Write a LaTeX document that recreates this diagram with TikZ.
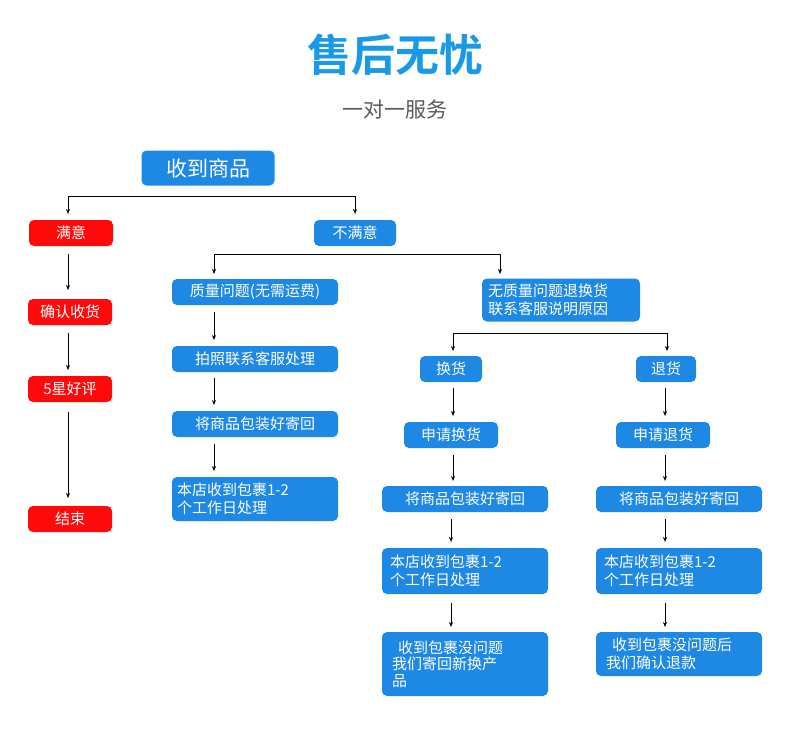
\documentclass[tikz,border=0pt]{standalone}
\usepackage{fontspec}
\setmainfont{Noto Sans CJK SC}
\newfontfamily\cjkb{Noto Sans CJK SC Bold}
\usetikzlibrary{arrows.meta}
\definecolor{bl}{HTML}{1E88E5}
\definecolor{tb}{HTML}{1A9AE6}
\definecolor{rd}{HTML}{FF0A0A}
\tikzset{
 b/.style={fill=bl,text=white,rounded corners=5pt,font=\fontsize{15}{18}\selectfont,inner sep=0pt,minimum height=26pt,align=left},
 r/.style={b,fill=rd,minimum width=84pt},
 ar/.style={-{Stealth[length=5pt,width=4pt]},line width=0.7pt},
 ln/.style={line width=0.7pt}
}
\begin{document}
\begin{tikzpicture}[x=1pt,y=-1pt]
\useasboundingbox (0,0) rectangle (790,755);
\node[text=tb,font=\cjkb\fontsize{44}{50}\selectfont] (t) at (395,55) {售后无忧};
\node[text=black!65,font=\fontsize{21}{24}\selectfont] (s) at (395,110) {一对一服务};
\node[b,minimum width=133pt,minimum height=35pt,font=\fontsize{21}{24}\selectfont] (rx) at (208,168) {收到商品};
\node[r] (my) at (71,233) {满意};
\node[b,minimum width=82pt] (bmy) at (355,233) {不满意};
\node[r] (qr) at (70,312) {确认收货};
\node[r] (hp) at (70,389) {5星好评};
\node[r] (js) at (70,519) {结束};
\coordinate (h1) at (68,196); \coordinate (h2) at (355,196);
\draw[ln] (h1)--(h2);
\draw[ar] (h1)--(68,214); \draw[ar] (h2)--(355,214);
\draw[ar] (68,254)--(68,290);
\draw[ar] (68,333)--(68,370);
\draw[ar] (68,412)--(68,498);
% left branch
\node[b,minimum width=166pt] (zl) at (255,292) {质量问题(无需运费)};
\node[b,minimum width=166pt] (pz) at (255,359) {拍照联系客服处理};
\node[b,minimum width=166pt] (jb1) at (255,424) {将商品包装好寄回};
\node[b,minimum width=166pt,minimum height=44pt,text width=156pt] (bd1) at (255,499) {本店收到包裹1-2\\个工作日处理};
\node[b,minimum width=158pt,minimum height=43pt,text width=146pt] (wz) at (561,300) {无质量问题退换货\\联系客服说明原因};
\coordinate (h3) at (214,254); \coordinate (h4) at (500,254);
\draw[ln] (h3)--(h4);
\draw[ar] (h3)--(214,274); \draw[ar] (h4)--(500,274);
\draw[ar] (214,312)--(214,340);
\draw[ar] (214,378)--(214,405);
\draw[ar] (214,444)--(214,471);
% right branches
\node[b,minimum width=62pt] (hh) at (451,369) {换货};
\node[b,minimum width=60pt] (th) at (666,369) {退货};
\coordinate (h5) at (453,333); \coordinate (h6) at (667,333);
\draw[ln] (h5)--(h6);
\draw[ar] (h5)--(453,351); \draw[ar] (h6)--(667,351);
\node[b,minimum width=94pt] (sq1) at (451,435) {申请换货};
\node[b,minimum width=94pt] (sq2) at (663,435) {申请退货};
\node[b,minimum width=166pt] (jb2) at (465,499) {将商品包装好寄回};
\node[b,minimum width=166pt] (jb3) at (679,499) {将商品包装好寄回};
\node[b,minimum width=166pt,minimum height=46pt,text width=150pt] (bd2) at (465,571) {本店收到包裹1-2\\个工作日处理};
\node[b,minimum width=166pt,minimum height=46pt,text width=150pt] (bd3) at (679,571) {本店收到包裹1-2\\个工作日处理};
\node[b,minimum width=166pt,minimum height=64pt,text width=146pt,font=\fontsize{15}{16.5}\selectfont] (sd2) at (465,664) {\hspace*{6pt}收到包裹没问题\\我们寄回新换产\\品};
\node[b,minimum width=166pt,minimum height=44pt,text width=146pt] (sd3) at (679,654) {\hspace*{6pt}收到包裹没问题后\\我们确认退款};
\draw[ar] (453,388)--(453,416);
\draw[ar] (665,388)--(665,416);
\draw[ar] (453,455)--(453,481);
\draw[ar] (665,455)--(665,481);
\draw[ar] (451,519)--(451,542);
\draw[ar] (665,519)--(665,542);
\draw[ar] (451,603)--(451,627);
\draw[ar] (665,603)--(665,627);
\end{tikzpicture}
\end{document}
